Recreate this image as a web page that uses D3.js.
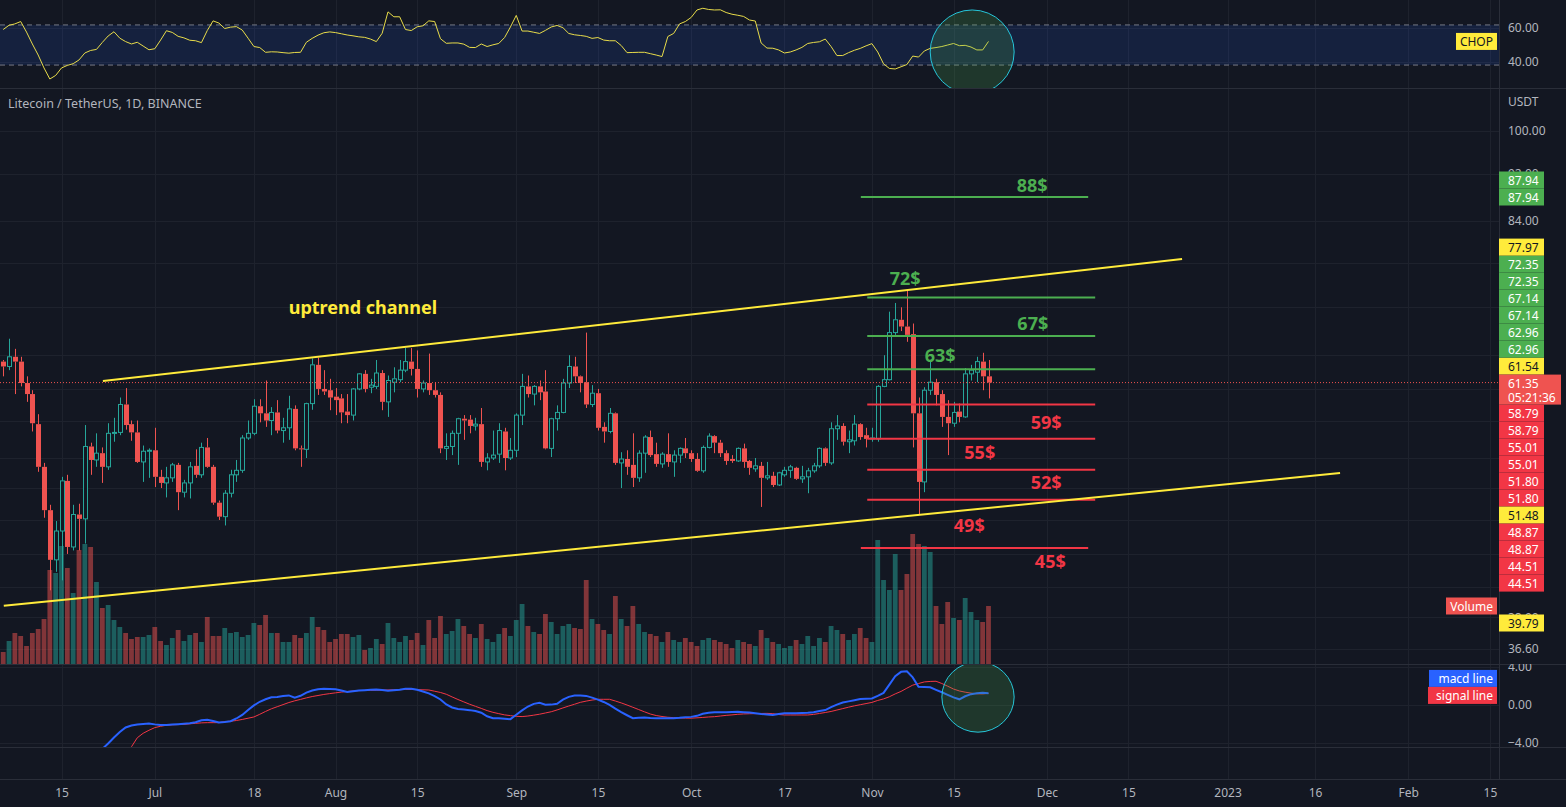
<!DOCTYPE html>
<html>
<head>
<meta charset="utf-8">
<script src="https://cdn.jsdelivr.net/npm/d3@7"></script>
<style>
html, body { margin: 0; padding: 0; background: #131722; }
svg { display: block; }
text { font-family: "Noto Sans", "DejaVu Sans", sans-serif; }
</style>
</head>
<body>
<svg id="chart" width="1566" height="807"></svg>
<script>
// LTC/USDT daily candles, Jun 5 2022 .. Nov 21 2022
const firstDay = Date.UTC(2022, 5, 5);

const open = [63.9,63.3,64.5,63.9,61.3,60.0,56.6,52.1,47.9,43.5,46.0,50.7,44.6,47.5,47.1,54.2,52.8,53.5,52.1,55.6,
  55.7,58.8,56.6,55.7,52.6,53.7,53.8,51.1,50.5,51.0,52.3,49.6,50.5,52.2,51.3,54.1,52.1,48.6,47.3,49.5,
  51.3,51.75,55.1,55.6,58.6,57.8,57.0,57.9,55.9,56.2,58.3,54.0,53.9,58.9,63.5,60.6,60.45,59.7,59.5,58.0,
  57.6,60.6,62.4,60.8,60.9,62.5,59.1,61.4,61.7,62.85,63.9,63.0,60.6,61.3,60.45,59.9,54.0,54.2,55.6,57.2,
  57.1,56.4,56.6,52.6,53.0,53.4,55.8,53.0,53.8,57.6,60.9,60.0,60.9,60.3,54.0,57.2,57.9,61.3,63.3,62.1,
  61.4,58.8,60.1,56.3,55.8,57.8,52.5,52.9,52.3,51.0,53.5,55.2,53.4,52.4,53.4,52.6,53.3,54.0,53.5,52.9,
  51.7,54.1,55.3,54.6,53.5,52.9,52.7,54.0,52.7,51.9,52.2,51.0,51.2,50.3,51.3,51.75,52.0,50.9,51.1,51.7,
  52.2,54.0,52.5,56.1,56.4,54.7,54.8,56.6,55.4,55.0,55.0,60.9,61.7,67.6,69.3,68.4,67.4,57.8,50.6,60.45,
  61.4,60.0,57.4,56.7,58.0,57.4,62.4,62.6,63.9,62.1];
const high = [64.1,66.8,65.5,64.5,62.1,60.45,57.7,52.5,48.4,46.9,51.1,51.3,48.4,48.5,56.5,54.6,55.6,54.1,56.7,57.3,
  59.6,60.7,57.0,57.0,54.3,54.0,56.2,51.8,52.1,52.5,52.5,50.8,52.6,53.9,54.6,55.1,52.3,48.8,49.8,51.8,
  52.8,55.4,57.0,59.4,59.4,61.6,58.5,59.3,57.3,59.8,58.7,54.3,59.0,64.3,64.4,62.85,61.8,60.7,60.0,60.0,
  60.7,62.5,62.85,61.8,64.1,62.85,62.2,63.2,64.1,65.6,65.6,65.3,61.6,64.9,61.4,60.2,55.6,55.9,57.3,57.6,
  57.6,57.3,58.4,53.5,55.9,56.7,56.2,55.1,57.8,62.4,62.2,61.05,61.6,62.85,57.3,58.7,61.8,64.7,64.5,62.2,
  67.6,61.05,60.6,56.8,58.4,57.9,53.6,53.8,55.6,53.8,55.4,55.9,54.6,53.6,55.6,53.8,54.1,55.1,53.8,53.5,
  54.3,55.6,55.4,54.9,53.8,53.3,54.1,54.5,52.8,53.0,52.6,52.6,51.6,51.6,52.1,52.3,52.1,52.2,52.0,52.5,
  54.1,54.1,56.8,57.6,56.7,55.9,57.6,56.7,56.2,56.2,61.05,64.7,70.4,71.6,71.0,73.4,68.8,59.6,60.8,64.1,
  61.8,60.45,59.3,59.1,58.9,63.1,63.5,64.5,65.0,64.1];
const low = [62.1,62.85,60.0,60.9,59.1,55.8,51.6,47.2,41.0,42.5,41.8,44.0,44.3,44.3,44.9,51.3,52.1,50.5,51.8,54.7,
  55.4,56.0,54.8,52.5,50.6,51.0,50.1,50.0,49.1,50.6,47.9,49.1,49.0,51.0,51.0,52.0,48.4,47.0,46.5,49.1,
  50.6,51.5,54.9,55.4,56.8,56.3,55.4,55.6,54.6,54.9,53.8,52.1,53.0,58.2,59.9,59.9,58.15,57.6,56.7,56.7,
  57.0,60.45,60.2,60.1,60.6,58.15,57.4,60.2,61.4,62.6,62.2,59.6,60.2,59.9,59.6,53.5,52.8,53.3,52.3,54.9,
  55.6,55.9,52.1,51.75,52.8,52.5,51.75,52.8,53.1,56.5,59.6,58.7,59.3,53.9,53.1,55.9,57.8,60.7,61.3,60.2,
  58.4,58.5,55.9,54.6,55.6,52.3,50.0,51.3,50.1,50.6,51.5,53.1,52.1,52.0,52.1,51.1,52.5,53.0,52.6,51.6,
  51.5,54.0,53.5,53.1,52.3,52.5,52.6,52.0,51.3,51.6,48.2,50.8,50.1,50.2,51.1,51.0,50.8,50.5,49.5,51.5,
  52.0,52.2,52.3,54.9,54.3,53.5,54.3,54.9,54.1,54.7,54.7,60.8,61.6,67.3,67.8,66.4,54.1,47.5,49.6,59.9,
  58.7,56.3,53.3,56.3,56.8,57.3,61.6,61.4,60.45,59.5];
const close = [63.3,64.5,63.9,61.3,60.0,56.7,52.1,47.9,43.5,46.0,50.7,44.6,47.5,47.1,54.2,52.8,53.5,52.1,55.6,55.7,
  58.8,56.5,55.7,52.6,53.7,53.8,51.1,50.5,51.0,52.3,49.6,50.5,52.1,51.3,54.1,52.1,48.6,47.3,49.5,51.3,
  51.75,55.1,55.6,58.6,57.8,57.0,57.9,55.9,56.2,58.3,54.0,53.9,58.9,63.5,60.6,60.3,59.6,59.3,57.9,57.6,
  60.6,62.4,60.6,61.05,62.5,59.1,61.6,61.8,62.85,63.9,63.0,60.6,61.3,60.45,59.9,54.0,54.2,55.6,57.2,57.0,
  56.4,56.6,52.6,53.0,53.3,55.9,53.0,53.8,57.6,60.9,60.0,60.9,60.2,54.0,57.2,57.9,61.3,63.3,62.1,61.3,
  58.8,60.1,56.2,55.8,57.8,52.5,52.9,52.1,51.0,53.5,55.2,53.3,52.4,53.4,52.6,53.3,54.0,53.5,52.9,51.7,
  54.1,55.3,54.6,53.5,52.7,52.7,54.0,52.6,52.0,52.2,51.0,51.2,50.3,51.5,51.75,52.1,50.9,51.1,51.7,52.2,
  54.0,52.5,56.1,56.4,54.7,54.9,56.6,55.2,55.0,55.1,60.9,61.7,67.6,69.3,68.4,67.3,57.8,50.6,60.45,61.4,
  59.9,57.4,56.7,57.9,57.4,62.4,62.85,63.9,62.1,61.35];
// volume, 10k LTC units
const volume = [12,23,31,28,18,31,35,45,94,91,118,96,71,114,120,117,82,56,59,44,
  37,31,25,27,27,29,37,23,19,26,34,23,29,31,22,47,28,28,36,31,
  32,27,29,41,39,49,31,31,22,22,29,26,31,47,37,34,22,25,30,30,
  27,29,14,16,25,20,41,26,22,28,24,31,19,44,26,48,30,33,45,38,
  30,26,40,25,22,30,36,28,44,60,38,32,30,50,42,30,38,40,36,35,
  84,45,40,34,30,68,45,38,58,40,32,30,28,22,32,24,22,26,22,18,
  24,26,24,22,20,16,24,22,20,18,34,26,22,20,16,18,24,20,28,18,
  26,22,38,34,30,24,30,36,26,22,124,84,74,110,74,90,130,120,118,112,
  58,40,62,46,44,66,52,44,42,58];
// Choppiness index (14)
const chop = [59.1,61.6,62.4,63.8,57.6,50.6,44.1,36.5,30.0,32.1,36.5,38.0,39.0,41.2,45.3,46.8,47.4,51.5,55.3,57.8,
  54.0,52.0,50.6,51.6,49.4,47.2,47.8,52.9,58.4,57.4,55.1,54.2,52.8,52.5,51.4,58.5,64.2,62.9,59.7,60.5,
  60.8,58.8,54.0,49.1,48.5,45.7,46.0,45.9,45.5,45.2,45.6,45.7,51.6,53.9,55.8,57.2,57.7,57.3,56.6,55.9,
  55.4,54.8,54.5,53.5,52.0,56.9,69.5,66.6,66.6,59.1,58.5,60.7,61.3,64.2,63.8,53.7,51.0,51.2,51.2,50.5,
  48.6,48.5,50.6,49.1,50.1,50.9,54.4,60.6,67.4,58.2,58.2,57.5,56.8,58.6,60.6,61.5,60.2,56.8,56.0,55.6,
  55.1,53.9,54.4,52.9,52.5,52.5,49.7,45.5,45.6,45.7,45.7,44.9,44.1,43.2,55.0,56.8,62.4,63.8,66.2,70.6,
  71.6,70.9,70.6,70.7,69.1,68.1,67.5,66.8,64.7,64.1,51.2,48.2,48.1,47.1,45.3,45.9,47.1,48.6,50.9,51.5,
  51.9,53.5,49.1,43.8,43.8,45.5,46.9,48.0,49.5,50.8,45.9,38.9,36.2,35.9,37.2,38.5,43.5,42.9,46.5,48.0,
  48.5,49.1,50.0,50.9,49.6,49.8,48.8,47.1,47.1,52.1];
// MACD (12,26,9): macd line from bar 17, signal from bar 22
const macdStart = 17;
const macdLine = [-4.63,-4.05,-3.42,-2.84,-2.37,-2.16,-2.05,-2.0,-1.94,-2.04,-2.1,-2.1,-2.06,-2.02,-1.97,-1.91,-1.82,-1.6,-1.56,-1.68,
  -1.85,-1.8,-1.71,-1.42,-1.05,-0.52,-0.04,0.34,0.6,0.82,0.85,0.95,1.01,0.76,0.97,1.31,1.52,1.66,1.71,1.69,
  1.66,1.53,1.37,1.45,1.52,1.56,1.6,1.64,1.58,1.51,1.55,1.6,1.72,1.71,1.6,1.42,1.22,0.94,0.58,0.06,
  -0.26,-0.42,-0.48,-0.54,-0.63,-0.81,-1.19,-1.4,-1.4,-1.45,-1.49,-1.02,-0.57,-0.16,0.12,0.23,0.03,0.04,0.13,0.57,
  0.86,0.99,1.0,0.96,0.78,0.57,0.32,0.02,-0.38,-0.76,-1.08,-1.39,-1.34,-1.31,-1.37,-1.4,-1.4,-1.4,-1.4,-1.35,
  -1.28,-1.25,-1.14,-0.93,-0.82,-0.77,-0.77,-0.76,-0.73,-0.71,-0.76,-0.8,-0.87,-0.95,-1.01,-1.06,-0.95,-0.87,-0.87,-0.87,
  -0.85,-0.82,-0.76,-0.63,-0.53,-0.22,0.04,0.26,0.38,0.51,0.62,0.65,0.69,0.97,1.27,2.14,3.03,3.49,3.54,2.91,
  1.93,1.89,1.86,1.6,1.34,1.07,0.8,0.6,0.92,1.14,1.23,1.28,1.23];
const signalStart = 22;
const signalLine = [-4.4,-3.45,-2.98,-2.66,-2.38,-2.24,-2.13,-2.08,-2.06,-2.03,-1.98,-1.93,-1.88,-1.86,-1.86,-1.86,-1.75,-1.71,-1.63,-1.52,
  -1.39,-1.26,-0.98,-0.68,-0.4,-0.18,0.04,0.26,0.44,0.59,0.75,0.89,1.0,1.11,1.2,1.28,1.36,1.42,1.47,1.52,
  1.53,1.55,1.56,1.57,1.58,1.6,1.62,1.64,1.64,1.62,1.6,1.58,1.45,1.32,1.13,0.85,0.58,0.33,0.08,-0.14,
  -0.36,-0.59,-0.77,-0.91,-1.04,-1.12,-1.19,-1.22,-1.16,-1.07,-0.97,-0.84,-0.71,-0.52,-0.31,-0.11,0.08,0.28,0.41,0.52,
  0.6,0.6,0.6,0.42,0.22,0.0,-0.24,-0.48,-0.72,-0.95,-1.11,-1.21,-1.29,-1.33,-1.36,-1.38,-1.39,-1.35,-1.31,-1.26,
  -1.23,-1.16,-1.09,-1.04,-0.98,-0.94,-0.92,-0.91,-0.89,-0.88,-0.91,-1.0,-1.05,-1.05,-1.05,-1.05,-1.05,-0.99,-0.89,-0.79,
  -0.68,-0.53,-0.38,-0.23,-0.09,0.03,0.15,0.27,0.48,0.64,0.87,1.17,1.43,1.77,2.09,2.26,2.43,2.48,2.5,2.26,
  1.98,1.68,1.48,1.35,1.25,1.18,1.17,1.22];

// drawn levels (price, label)
const levelPrices = [87.94, 72.35, 67.14, 62.96, 58.79, 55.01, 51.80, 48.87, 44.51];
const levelTexts = ['88$', '72$', '67$', '63$', '59$', '55$', '52$', '49$', '45$'];
const levelTextPrices = [90.0, 75.1, 68.9, 64.7, 56.8, 53.6, 50.6, 46.5, 43.4];
const levelTextDays = [166.5, 144.7, 166.6, 150.7, 168.9, 157.5, 168.9, 155.7, 169.6]; // days after Jun 15
const levelStartDays = [137.1, 138.2, 138.2, 138.2, 138.2, 138.2, 138.2, 138.2, 137.1];
const levelEndDays = [176.1, 177.3, 177.3, 177.3, 177.3, 177.3, 177.3, 177.3, 176.1];

// uptrend channel: [daysAfterJun15, price]
const upperLine = [[7.1, 61.54], [192.2, 77.97]];
const lowerLine = [[-9.9, 39.79], [219.3, 51.48]];

const timeTicks = [[2022,5,15,'15'],[2022,6,1,'Jul'],[2022,6,18,'18'],[2022,7,1,'Aug'],[2022,7,15,'15'],
  [2022,8,1,'Sep'],[2022,8,15,'15'],[2022,9,1,'Oct'],[2022,9,17,'17'],[2022,10,1,'Nov'],[2022,10,15,'15'],
  [2022,11,1,'Dec'],[2022,11,15,'15'],[2023,0,1,'2023'],[2023,0,16,'16'],[2023,1,1,'Feb'],[2023,1,15,'15']];
const priceGrid = [100, 92, 84, 77.4, 71.1, 64.7, 60.6, 57, 53, 50, 47, 44, 41.3, 38.9, 36.6];
const priceTickLabels = [100, 92, 84, 38.9, 36.6]; // the rest sit under the level tags

// ---------- layout ----------
const W = 1566, H = 807, axisX = 1499;
const pChop = [0, 88], pPrice = [88, 664], pMacd = [664, 747], pEmpty = [747, 779];
const BG = '#131722', GRID = '#1e222d', SEP = '#2a2e39', TXT = '#b2b5be';
const UP = '#26a69a', DOWN = '#ef5350', GREEN = '#4caf50', RED = '#f23645', YEL = '#ffeb3b';

const day0 = Date.UTC(2022, 5, 15);
const dayDate = d => new Date(day0 + d * 864e5);
const dates = open.map((_, i) => new Date(firstDay + i * 864e5));

const x = d3.scaleUtc().domain([new Date(day0), new Date(Date.UTC(2023, 1, 15))]).range([61.5, 1489.9]);
const yP = d3.scaleLog().domain([44.51, 87.94]).range([548, 197]);
const yC = d3.scaleLinear().domain([40, 60]).range([62, 28]);
const yM = d3.scaleLinear().domain([-4, 4]).range([743, 667]);
const yV = d3.scaleLinear().domain([0, 150]).range([664, 514]);

const svg = d3.select('#chart');
svg.append('rect').attr('width', W).attr('height', H).attr('fill', BG);

const defs = svg.append('defs');
function clip(id, y0, y1, x1) {
  defs.append('clipPath').attr('id', id).append('rect')
    .attr('x', 0).attr('y', y0).attr('width', x1 || axisX).attr('height', y1 - y0);
}
clip('cChop', pChop[0], pChop[1]);
clip('cPrice', pPrice[0], pPrice[1]);
clip('cMacd', pMacd[0], pMacd[1]);
clip('aChop', pChop[0], pChop[1], W);
clip('aPrice', pPrice[0], pPrice[1], W);
clip('aMacd', pMacd[0], pMacd[1], W);

// vertical grid
const grid = svg.append('g');
timeTicks.forEach(t => {
  const xx = Math.round(x(new Date(Date.UTC(t[0], t[1], t[2])))) + 0.5;
  grid.append('line').attr('x1', xx).attr('x2', xx).attr('y1', 0).attr('y2', pEmpty[1]).attr('stroke', GRID);
});
// horizontal grid
const hline = (y, col) => grid.append('line').attr('x1', 0).attr('x2', axisX)
  .attr('y1', Math.round(y) + 0.5).attr('y2', Math.round(y) + 0.5).attr('stroke', col || GRID);
priceGrid.forEach(p => hline(yP(p)));
[60, 40].forEach(v => hline(yC(v)));
[4, 0, -4].forEach(v => hline(yM(v)));

// CHOP pane
const gChop = svg.append('g').attr('clip-path', 'url(#cChop)');
gChop.append('rect').attr('x', 0).attr('width', axisX)
  .attr('y', yC(61.8)).attr('height', yC(38.2) - yC(61.8)).attr('fill', 'rgba(41,98,255,0.13)');
[61.8, 38.2].forEach(v => gChop.append('line').attr('x1', 0).attr('x2', axisX)
  .attr('y1', yC(v)).attr('y2', yC(v)).attr('stroke', '#787b86').attr('stroke-dasharray', '5,4'));
gChop.append('path').datum(chop)
  .attr('d', d3.line().x((d, i) => x(dates[i])).y(d => yC(d)))
  .attr('fill', 'none').attr('stroke', '#e8dc4a').attr('stroke-width', 1);

// volume
const gPrice = svg.append('g').attr('clip-path', 'url(#cPrice)');
gPrice.selectAll('rect.vol').data(volume).enter().append('rect')
  .attr('x', (d, i) => x(dates[i]) - 2.4).attr('width', 4.8)
  .attr('y', d => yV(d)).attr('height', d => yV(0) - yV(d))
  .attr('fill', (d, i) => close[i] >= open[i] ? 'rgba(38,166,154,0.5)' : 'rgba(239,83,80,0.5)');

// candles (hollow up, filled down)
const candles = gPrice.selectAll('g.c').data(open).enter().append('g');
candles.each(function (o, i) {
  const g = d3.select(this);
  const c = close[i], up = c >= o;
  const col = up ? UP : DOWN;
  const cx = Math.round(x(dates[i])) + 0.5;
  const top = yP(Math.max(o, c)), bot = yP(Math.min(o, c));
  g.append('line').attr('x1', cx).attr('x2', cx).attr('y1', yP(high[i])).attr('y2', top).attr('stroke', col);
  g.append('line').attr('x1', cx).attr('x2', cx).attr('y1', bot).attr('y2', yP(low[i])).attr('stroke', col);
  if (up) {
    g.append('rect').attr('x', cx - 2).attr('width', 4).attr('y', top).attr('height', Math.max(bot - top, 1))
      .attr('fill', BG).attr('stroke', col).attr('stroke-width', 1);
  } else {
    g.append('rect').attr('x', cx - 2.5).attr('width', 5).attr('y', top).attr('height', Math.max(bot - top, 1))
      .attr('fill', col);
  }
});

// current price line
const last = close[close.length - 1];
gPrice.append('line').attr('x1', 0).attr('x2', axisX).attr('y1', yP(last)).attr('y2', yP(last))
  .attr('stroke', DOWN).attr('stroke-dasharray', '1,2');

// level lines
levelPrices.forEach((p, i) => {
  const col = i < 4 ? GREEN : RED;
  gPrice.append('line').attr('x1', x(dayDate(levelStartDays[i]))).attr('x2', x(dayDate(levelEndDays[i])))
    .attr('y1', yP(p)).attr('y2', yP(p)).attr('stroke', col).attr('stroke-width', 2);
  gPrice.append('text').attr('x', x(dayDate(levelTextDays[i]))).attr('y', yP(levelTextPrices[i]))
    .attr('text-anchor', 'middle').attr('dominant-baseline', 'central')
    .attr('font-size', 18).attr('font-weight', 'bold').attr('fill', col).text(levelTexts[i]);
});

// channel
[upperLine, lowerLine].forEach(l => {
  gPrice.append('line')
    .attr('x1', x(dayDate(l[0][0]))).attr('y1', yP(l[0][1]))
    .attr('x2', x(dayDate(l[1][0]))).attr('y2', yP(l[1][1]))
    .attr('stroke', YEL).attr('stroke-width', 2);
});
gPrice.append('text').attr('x', x(dayDate(51.7))).attr('y', yP(71.1))
  .attr('text-anchor', 'middle').attr('dominant-baseline', 'central')
  .attr('font-size', 18).attr('font-weight', 'bold').attr('fill', YEL).text('uptrend channel');

// MACD pane
const gMacd = svg.append('g').attr('clip-path', 'url(#cMacd)');
gMacd.append('path').datum(signalLine)
  .attr('d', d3.line().x((d, i) => x(dates[i + signalStart])).y(d => yM(d)))
  .attr('fill', 'none').attr('stroke', '#f23645').attr('stroke-width', 1);
gMacd.append('path').datum(macdLine)
  .attr('d', d3.line().x((d, i) => x(dates[i + macdStart])).y(d => yM(d)))
  .attr('fill', 'none').attr('stroke', '#2962ff').attr('stroke-width', 2);

// highlight ellipses
const ell = (g, day, val, rxDays, ryVal, ys) => {
  const cx = x(dayDate(day)), cy = ys(val);
  g.append('ellipse').attr('cx', cx).attr('cy', cy)
    .attr('rx', x(dayDate(day + rxDays)) - cx).attr('ry', Math.abs(ys(val + ryVal) - cy))
    .attr('fill', 'rgba(76,175,80,0.22)').attr('stroke', '#26c6da').attr('stroke-width', 1);
};
ell(gChop, 156.2, 45.9, 7.2, 24.7, yC);
ell(gMacd, 157.2, 0.84, 6.2, 3.7, yM);

// separators
const sep = svg.append('g');
[pChop[1], pPrice[1], pMacd[1], pEmpty[1]].forEach(y => sep.append('line')
  .attr('x1', 0).attr('x2', W).attr('y1', y + 0.5).attr('y2', y + 0.5).attr('stroke', SEP));
sep.append('line').attr('x1', axisX + 0.5).attr('x2', axisX + 0.5).attr('y1', 0).attr('y2', pEmpty[1]).attr('stroke', SEP);

// right axes
function rightAxis(scale, ticks, clipId) {
  const g = svg.append('g').attr('transform', `translate(${axisX},0)`).attr('clip-path', `url(#${clipId})`)
    .call(d3.axisRight(scale).tickValues(ticks).tickSize(0).tickPadding(9).tickFormat(d3.format('.2f')));
  g.select('.domain').remove();
  g.selectAll('text').attr('fill', TXT).attr('font-size', 12).attr('font-family', '"Noto Sans", sans-serif');
}
rightAxis(yP, priceTickLabels, 'aPrice');
rightAxis(yC, [60, 40], 'aChop');
rightAxis(yM, [4, 0, -4], 'aMacd');
svg.append('text').attr('x', 1508).attr('y', 101).attr('dominant-baseline', 'central')
  .attr('fill', TXT).attr('font-size', 12).text('USDT');

// price tags on the axis, stacked outward from the last price
const H17 = 17;
const curY = yP(last);
const above = [[87.94, GREEN], [87.94, GREEN], [77.97, YEL], [72.35, GREEN], [72.35, GREEN],
  [67.14, GREEN], [67.14, GREEN], [62.96, GREEN], [62.96, GREEN], [61.54, YEL]];
const below = [[58.79, RED], [58.79, RED], [55.01, RED], [55.01, RED], [51.80, RED], [51.80, RED],
  [51.48, YEL], [48.87, RED], [48.87, RED], [44.51, RED], [44.51, RED], [null, null], [39.79, YEL]];
const curTop = curY - 8, curBot = curY + 22;
const labels = [];
let lim = curTop - H17 / 2;
for (let k = above.length - 1; k >= 0; k--) {
  const yy = Math.min(yP(above[k][0]), lim);
  labels.push([yy, above[k]]); lim = yy - H17;
}
lim = curBot + H17 / 2;
const volY = yV(volume[volume.length - 1]);
below.forEach(b => {
  const ideal = b[0] === null ? volY : yP(b[0]);
  const yy = Math.max(ideal, lim);
  if (b[0] !== null) labels.push([yy, b]);
  else b.y = yy;
  lim = yy + H17;
});
const gl = svg.append('g');
labels.forEach(([yy, [v, col]]) => {
  gl.append('rect').attr('x', axisX).attr('y', yy - H17 / 2).attr('width', 45).attr('height', H17).attr('fill', col);
  gl.append('text').attr('x', 1508).attr('y', yy).attr('dominant-baseline', 'central')
    .attr('font-size', 12).attr('fill', col === YEL ? '#131722' : '#ffffff').text(v.toFixed(2));
});
gl.append('rect').attr('x', axisX).attr('y', curTop).attr('width', 62).attr('height', 30).attr('fill', '#ef5350');
gl.append('text').attr('x', 1508).attr('y', curY + 1).attr('dominant-baseline', 'central')
  .attr('font-size', 12).attr('fill', '#fff').text(last.toFixed(2));
gl.append('text').attr('x', 1508).attr('y', curY + 15).attr('dominant-baseline', 'central')
  .attr('font-size', 12).attr('fill', '#fff').text('05:21:36');

// indicator tags left of the axis
function tag(label, yy, col, w, dark) {
  gl.append('rect').attr('x', axisX - 2 - w).attr('y', yy - 8.5).attr('width', w).attr('height', 17).attr('fill', col);
  gl.append('text').attr('x', axisX - 6).attr('y', yy).attr('text-anchor', 'end').attr('dominant-baseline', 'central')
    .attr('font-size', 12).attr('fill', dark ? '#131722' : '#fff').text(label);
}
tag('CHOP', yC(chop[chop.length - 1]), YEL, 41, true);
tag('Volume', below[11].y, '#ef5350', 51);
const sigY = yM(signalLine[signalLine.length - 1]) + 2;
tag('macd line', sigY - 17, '#2962ff', 68);
tag('signal line', sigY, '#f23645', 69);

// time axis
const gt = svg.append('g').attr('transform', `translate(0,${pEmpty[1]})`)
  .call(d3.axisBottom(x).tickValues(timeTicks.map(t => new Date(Date.UTC(t[0], t[1], t[2]))))
    .tickSize(0).tickPadding(9).tickFormat((d, i) => timeTicks[i][3]));
gt.select('.domain').remove();
gt.selectAll('text').attr('fill', TXT).attr('font-size', 12).attr('font-family', '"Noto Sans", sans-serif');

// title
svg.append('text').attr('x', 8).attr('y', 103).attr('dominant-baseline', 'central')
  .attr('fill', TXT).attr('font-size', 12.5).text('Litecoin / TetherUS, 1D, BINANCE');
</script>
</body>
</html>
